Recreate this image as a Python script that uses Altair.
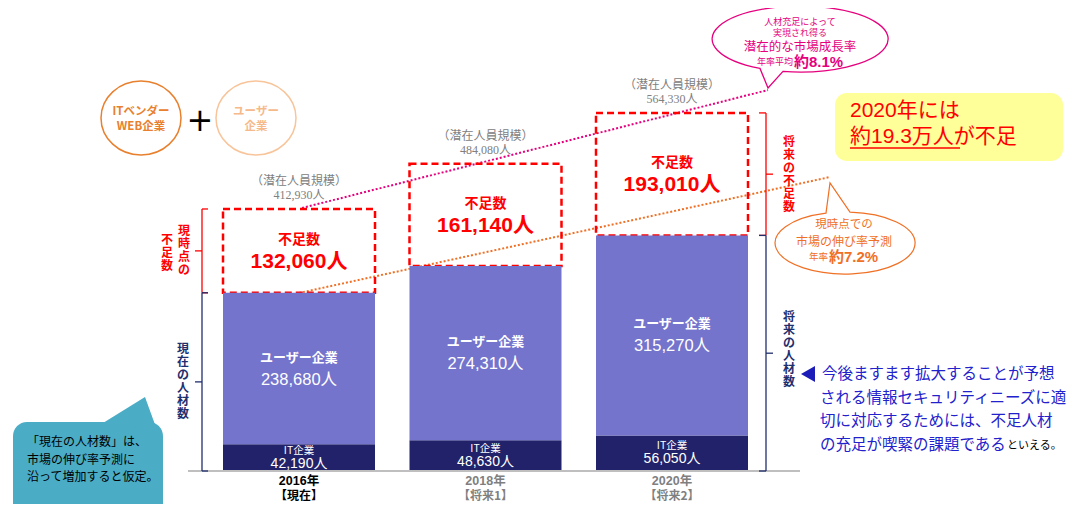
import altair as alt
import pandas as pd

# ---------------- data ----------------
years = ["2016年", "2018年", "2020年"]
periods = ["【現在】", "【将来1】", "【将来2】"]
it_staff = [42190, 48630, 56050]          # IT企業
user_staff = [238680, 274310, 315270]     # ユーザー企業
shortage = [132060, 161140, 193010]       # 不足数
potential = [412930, 484080, 564330]      # 潜在人員規模
year_colors = ["#000000", "#7F7F7F", "#7F7F7F"]

# ---------------- styling ----------------
JP = "Noto Sans CJK JP"
NUM = "Liberation Sans, Noto Sans CJK JP"
SERIF = "Liberation Serif, Noto Sans CJK JP"
RED = "#FF0000"
NAVY = "#22226A"
PURPLE = "#7474CC"
BRACKET_NAVY = "#1F2F6E"
PINK = "#E6007E"
ORANGE = "#F07025"
TEXT_BLUE = "#2222CC"

W, H = 1064, 496
PER_PX = 1576
Y_SCALE = alt.Scale(domain=[-(H - 463) * PER_PX, 463 * PER_PX], nice=False, zero=False)
X_SCALE = alt.Scale(domain=years, range=[215, 740], paddingInner=0.185, paddingOuter=0)

rows = []
for i, yr in enumerate(years):
    a = it_staff[i]
    b = a + user_staff[i]
    c = b + shortage[i]
    rows.append(dict(
        year=yr, period=periods[i], yc=year_colors[i], zero=0,
        it1=a, us1=b, tot=potential[i],
        it_mid=a / 2, us_mid=(a + b) / 2, sh_mid=(b + c) / 2,
        it_txt=f"{it_staff[i]:,}人", us_txt=f"{user_staff[i]:,}人",
        sh_txt=f"{shortage[i]:,}人", pot_txt=f"{potential[i]:,}人",
    ))
df = pd.DataFrame(rows)

X = alt.X("year:N", scale=X_SCALE, axis=None)


def Y(field):
    return alt.Y(field, type="quantitative", scale=Y_SCALE, axis=None)


ONE = pd.DataFrame({"k": [0]})


def note(s, x, y, size, color, weight="normal", align="center", font=JP, lh=None):
    return alt.Chart(ONE).mark_text(
        fontSize=size, color=color, fontWeight=weight, align=align, baseline="middle",
        font=font, lineBreak="\n", lineHeight=lh or size * 1.25,
    ).encode(x=alt.value(x), y=alt.value(y), text=alt.value(s))


def shape(path, x, y, stroke=None, fill=None, sw=1.5):
    props = dict(shape=path, size=4, strokeWidth=sw, opacity=1)
    if fill:
        props["fill"] = fill
        props["filled"] = True
    else:
        props["filled"] = False
    if stroke:
        props["stroke"] = stroke
    else:
        props["strokeWidth"] = 0
    return alt.Chart(ONE).mark_point(**props).encode(x=alt.value(x), y=alt.value(y))


def seg(x1, y1, x2, y2, color, width=1.0, dash=None):
    props = dict(color=color, strokeWidth=width)
    if dash:
        props["strokeDash"] = dash
    return alt.Chart(ONE).mark_rule(**props).encode(
        x=alt.value(x1), y=alt.value(y1), x2=alt.value(x2), y2=alt.value(y2))


def bracket(top, bot, xv, stub, tick, color, label, label_x, lh=13, shift=None):
    d = pd.DataFrame({"top": [top], "bot": [bot], "mid": [(top + bot) / 2]})
    base = alt.Chart(d)
    out = [
        base.mark_rule(color=color, strokeWidth=1.3).encode(x=alt.value(xv), y=Y("top"), y2="bot"),
        base.mark_rule(color=color, strokeWidth=1.3).encode(x=alt.value(xv), x2=alt.value(xv + stub), y=Y("top")),
        base.mark_rule(color=color, strokeWidth=1.3).encode(x=alt.value(xv), x2=alt.value(xv + stub), y=Y("bot")),
        base.mark_rule(color=color, strokeWidth=1.3).encode(x=alt.value(xv), x2=alt.value(xv + tick), y=Y("mid")),
    ]
    shift = shift or [0] * len(label)
    for t, lx, sh in zip(label, label_x, shift):
        n = t.count("\n") + 1
        out.append(base.mark_text(fontSize=12, fontWeight="bold", color=color, font=JP, lineBreak="\n",
                                  lineHeight=lh, baseline="middle", align="center",
                                  dy=-(n - 1) * lh / 2 + sh).encode(
            x=alt.value(lx), y=Y("mid"), text=alt.value(t)))
    return out


layers = []

# dotted trend lines (behind the bars)
layers.append(seg(294, 200, 760, 82, PINK, 2, [2, 2]))
layers.append(seg(291, 285, 822, 169, ORANGE, 2, [2, 2]))

base = alt.Chart(df)
# dashed shortage boxes
layers.append(base.mark_bar(fillOpacity=0, stroke=RED, strokeWidth=2.5, strokeDash=[7, 4]).encode(
    x=X, y=Y("us1"), y2="tot"))
# stacked bars
layers.append(base.mark_bar(color=NAVY).encode(x=X, y=Y("zero"), y2="it1"))
layers.append(base.mark_bar(color=PURPLE).encode(x=X, y=Y("it1"), y2="us1"))

# baseline
layers.append(alt.Chart(pd.DataFrame({"zero": [0]})).mark_rule(color="#BFBFBF", strokeWidth=2).encode(
    x=alt.value(180), x2=alt.value(792), y=Y("zero")))

# bar labels
layers.append(base.mark_text(fontSize=10.5, color="white", font=JP, dy=-7).encode(
    x=X, y=Y("it_mid"), text=alt.value("IT企業")))
layers.append(base.mark_text(fontSize=14, color="white", font=NUM, dy=6).encode(
    x=X, y=Y("it_mid"), text="it_txt:N"))
layers.append(base.mark_text(fontSize=13, fontWeight="bold", color="white", font=JP, dy=-11).encode(
    x=X, y=Y("us_mid"), text=alt.value("ユーザー企業")))
layers.append(base.mark_text(fontSize=16.5, color="white", font=NUM, dy=11).encode(
    x=X, y=Y("us_mid"), text="us_txt:N"))
layers.append(base.mark_text(fontSize=14, fontWeight="bold", color=RED, font=JP, dy=-11).encode(
    x=X, y=Y("sh_mid"), text=alt.value("不足数")))
layers.append(base.mark_text(fontSize=21, fontWeight="bold", color=RED, font=NUM, dy=11).encode(
    x=X, y=Y("sh_mid"), text="sh_txt:N"))
layers.append(base.mark_text(fontSize=12, color="#808080", font=JP, dy=-28).encode(
    x=X, y=Y("tot"), text=alt.value("（潜在人員規模）")))
layers.append(base.mark_text(fontSize=12, color="#808080", font=SERIF, dy=-14).encode(
    x=X, y=Y("tot"), text="pot_txt:N"))

# x labels
layers.append(base.mark_text(fontSize=12.5, fontWeight="bold", font=NUM).encode(
    x=X, y=alt.value(473), text="year:N", color=alt.Color("yc:N", scale=None)))
layers.append(base.mark_text(fontSize=12, fontWeight="bold", font=JP).encode(
    x=X, y=alt.value(488), text="period:N", color=alt.Color("yc:N", scale=None)))

# brackets
b1 = it_staff[0] + user_staff[0]
b3 = it_staff[2] + user_staff[2]
layers += bracket(potential[0], b1, 194, 6, -7, RED, ["現\n時\n点\nの", "不\n足\n数"], [176, 159], shift=[0, 2])
layers += bracket(b1, 0, 194, 6, -7, BRACKET_NAVY, ["現\n在\nの\n人\n材\n数"], [175])
layers += bracket(potential[2], b3, 758, -7, 7, RED, ["将\n来\nの\n不\n足\n数"], [781])
layers += bracket(b3, 0, 758, -7, 7, BRACKET_NAVY, ["将\n来\nの\n人\n材\n数"], [781], shift=[-4])

# top-left circles
layers.append(shape("M -40 0 A 40 37 0 1 1 40 0 A 40 37 0 1 1 -40 0 Z", 133, 110, stroke="#E8802E"))
layers.append(note("ITベンダー\nWEB企業", 133, 104, 11.5, "#E8802E", "bold", lh=15))
layers.append(note("+", 192, 113, 32, "#000000", font="DejaVu Sans"))
layers.append(shape("M -40 0 A 40 37 0 1 1 40 0 A 40 37 0 1 1 -40 0 Z", 248, 110, stroke="#F8C49A"))
layers.append(note("ユーザー\n企業", 248, 104, 11.5, "#F6B98A", "bold", lh=15))

# pink callout
layers.append(shape("M -40 29.4 A 88 33 0 1 1 -17 32.4 L -32 49 Z", 792, 31, stroke=PINK, fill="white", sw=1.3))
layers.append(note("人材充足によって", 792, 14, 9, PINK))
layers.append(note("実現され得る", 792, 25, 9, PINK))
layers.append(note("潜在的な市場成長率", 792, 38.5, 12.5, PINK))
layers.append(note("年率平均", 785, 54, 9, PINK, align="right"))
layers.append(note("約8.1%", 786, 54, 15, PINK, "bold", align="left", font=NUM))

# orange callout
layers.append(shape("M 5 -30.9 A 70 31 0 1 1 -19 -29.8 L -15 -60 Z", 837, 235, stroke=ORANGE, fill="white", sw=1.2))
layers.append(note("現時点での", 836, 217, 11.5, ORANGE))
layers.append(note("市場の伸び率予測", 836, 234, 12, ORANGE))
layers.append(note("年率", 820, 249, 9.5, ORANGE, align="right"))
layers.append(note("約7.2%", 821, 249, 15, ORANGE, "bold", align="left", font=NUM))

# yellow box
layers.append(alt.Chart(ONE).mark_rect(fill="#FFFF99", cornerRadius=12).encode(
    x=alt.value(827), x2=alt.value(1055), y=alt.value(85), y2=alt.value(153)))
layers.append(note("2020年には", 842, 103, 21, RED, align="left", font=NUM))
layers.append(note("約19.3万人が不足", 842, 129, 21, RED, align="left", font=NUM))
layers.append(seg(842, 140, 952, 140, RED, 1.5))

# teal callout
layers.append(alt.Chart(ONE).mark_rect(fill="#4BACC6", cornerRadius=14).encode(
    x=alt.value(5), x2=alt.value(155), y=alt.value(414), y2=alt.value(510)))
layers.append(shape("M 0 0 L -42 26 L 12 33 Z", 137, 389, fill="#4BACC6"))
layers.append(note("「現在の人材数」は、", 19, 434, 12, "#000000", align="left"))
layers.append(note("市場の伸び率予測に", 19, 452, 12, "#000000", align="left"))
layers.append(note("沿って増加すると仮定。", 19, 469, 12, "#000000", align="left"))

# blue conclusion text
layers.append(shape("M -7 0 L 7 -8 L 7 8 Z", 800, 366, fill="#1C1CB8"))
blue_lines = ["今後ますます拡大することが予想", "される情報セキュリティニーズに適",
              "切に対応するためには、不足人材", "の充足が喫緊の課題である"]
for j, s in enumerate(blue_lines):
    layers.append(note(s, 814 if j == 0 else 812, 366 + j * 23.5, 15.5, TEXT_BLUE, align="left"))
layers.append(note("といえる。", 999, 438, 11, "#000000", align="left"))

chart = alt.layer(*layers).properties(
    width=W, height=H, autosize=alt.AutoSizeParams(type="none"), padding=0
).configure_view(stroke=None)

chart.save("out.html", embed_options={"renderer": "svg", "actions": False})
